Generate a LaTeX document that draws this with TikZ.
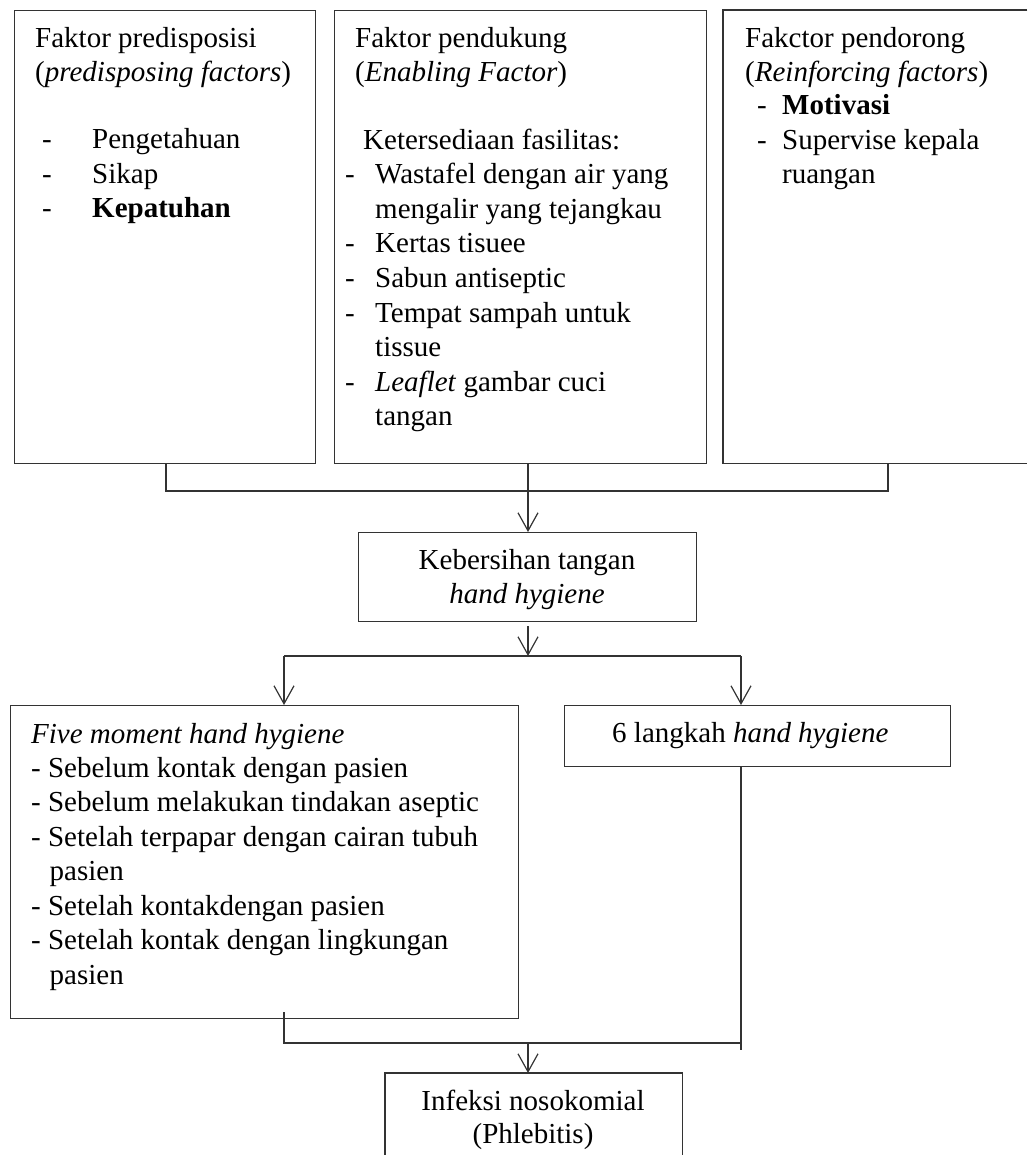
\documentclass[tikz,border=0pt]{standalone}
\usepackage{fontspec}
\setmainfont{Liberation Serif}
\usetikzlibrary{arrows.meta,calc}
\begin{document}
\begin{tikzpicture}[x=1pt,y=-1pt,
  box/.style={draw=black!80,line width=1.2pt,rectangle,inner sep=0pt,anchor=north west},
  openbox/.style={rectangle,inner sep=0pt,anchor=north west},
  ln/.style={draw=black!80,line width=1.2pt},
  arr/.style={ln,-{Straight Barb[length=18pt,width=20pt,line width=1.2pt]}},
  txt/.style={inner sep=0pt,anchor=base west,font=\fontsize{29}{35}\selectfont},
  ctxt/.style={inner sep=0pt,anchor=base,font=\fontsize{29}{35}\selectfont}]
\useasboundingbox (0,0) rectangle (1027,1155);
% boxes
\node[box,minimum width=301pt,minimum height=453pt] (b1) at (14,10) {};
\node[box,minimum width=372pt,minimum height=453pt] (b2) at (334,10) {};
\node[openbox,minimum width=304pt,minimum height=453pt] (b3) at (723,10) {};
\draw[ln] (b3.north east) -- (b3.north west) -- (b3.south west) -- (b3.south east);
\node[box,minimum width=338pt,minimum height=89pt] (b4) at (358,532) {};
\node[box,minimum width=508pt,minimum height=313pt] (b5) at (10,705) {};
\node[box,minimum width=386pt,minimum height=61pt] (b6) at (564,705) {};
\node[openbox,minimum width=297pt,minimum height=82pt] (b7) at (385,1073) {};
\draw[ln] (b7.south west) -- (b7.north west) -- (b7.north east) -- (b7.south east);
% box 1 text
\node[txt] (t1a) at (35,48) {Faktor predisposisi};
\node[txt] (t1b) at (35,82) {(\textit{predisposing factors})};
\node[txt] (d1a) at (42,149) {-};
\node[txt] (i1a) at (92,149) {Pengetahuan};
\node[txt] (d1b) at (42,183.5) {-};
\node[txt] (i1b) at (92,183.5) {Sikap};
\node[txt] (d1c) at (42,218) {-};
\node[txt] (i1c) at (92,218) {\textbf{Kepatuhan}};
% box 2 text
\node[txt] (t2a) at (355,48) {Faktor pendukung};
\node[txt] (t2b) at (355,82) {(\textit{Enabling Factor})};
\node[txt] (t2c) at (363,149.5) {Ketersediaan fasilitas:};
\node[txt] (d2a) at (345,184) {-};
\node[txt] (i2a) at (375,184) {Wastafel dengan air yang};
\node[txt] (i2b) at (375,218.5) {mengalir yang tejangkau};
\node[txt] (d2c) at (345,253) {-};
\node[txt] (i2c) at (375,253) {Kertas tisuee};
\node[txt] (d2d) at (345,287.5) {-};
\node[txt] (i2d) at (375,287.5) {Sabun antiseptic};
\node[txt] (d2e) at (345,322) {-};
\node[txt] (i2e) at (375,322) {Tempat sampah untuk};
\node[txt] (i2f) at (375,356.5) {tissue};
\node[txt] (d2g) at (345,391) {-};
\node[txt] (i2g) at (375,391) {\textit{Leaflet} gambar cuci};
\node[txt] (i2h) at (375,425.5) {tangan};
% box 3 text
\node[txt] (t3a) at (745,48) {Fakctor pendorong};
\node[txt] (t3b) at (745,82) {(\textit{Reinforcing factors})};
\node[txt] (d3a) at (757,115) {-};
\node[txt] (i3a) at (782,115) {\textbf{Motivasi}};
\node[txt] (d3b) at (757,149.5) {-};
\node[txt] (i3b) at (782,149.5) {Supervise kepala};
\node[txt] (i3c) at (782,184) {ruangan};
% box 4 text
\node[ctxt] (t4a) at (527,569) {Kebersihan tangan};
\node[ctxt] (t4b) at (527,603) {\textit{hand hygiene}};
% box 5 text
\node[txt] (t5a) at (31,743) {\textit{Five moment hand hygiene}};
\node[txt] (t5b) at (31,777) {- Sebelum kontak dengan pasien};
\node[txt] (t5c) at (31,811.5) {- Sebelum melakukan tindakan aseptic};
\node[txt] (t5d) at (31,846) {- Setelah terpapar dengan cairan tubuh};
\node[txt] (t5e) at (49.5,880.5) {pasien};
\node[txt] (t5f) at (31,915) {- Setelah kontakdengan pasien};
\node[txt] (t5g) at (31,949.5) {- Setelah kontak dengan lingkungan};
\node[txt] (t5h) at (49.5,984) {pasien};
% box 6 text
\node[txt] (t6) at (612,742) {6 langkah \textit{hand hygiene}};
% box 7 text
\node[ctxt] (t7a) at (533,1110) {Infeksi nosokomial};
\node[ctxt] (t7b) at (533,1143) {(Phlebitis)};
% connectors
\coordinate (j1) at (166,491);
\coordinate (j2) at (528,491);
\coordinate (j3) at (888,491);
\draw[ln] (b1.south -| j1) -- (j1) -- (j3) -- (b3.south -| j3);
\draw[arr] (b2.south -| j2) -- (b4.north -| j2);
\coordinate (k) at (528,656);
\draw[arr] ([yshift=-4pt]b4.south -| k) -- (k);
\coordinate (l) at (284,656);
\coordinate (r) at (741,656);
\draw[ln] (l) -- (r);
\draw[arr] (l) -- (b5.north -| l);
\draw[arr] (r) -- (b6.north -| r);
\coordinate (m1) at (284,1012);
\coordinate (m2) at (284,1043);
\coordinate (m3) at (741,1043);
\coordinate (m4) at (741,1050);
\coordinate (m) at (528,1043);
\draw[ln] (m1) -- (m2) -- (m3);
\draw[ln] (b6.south -| m4) -- (m4);
\draw[arr] (m) -- (b7.north -| m);
\end{tikzpicture}
\end{document}
